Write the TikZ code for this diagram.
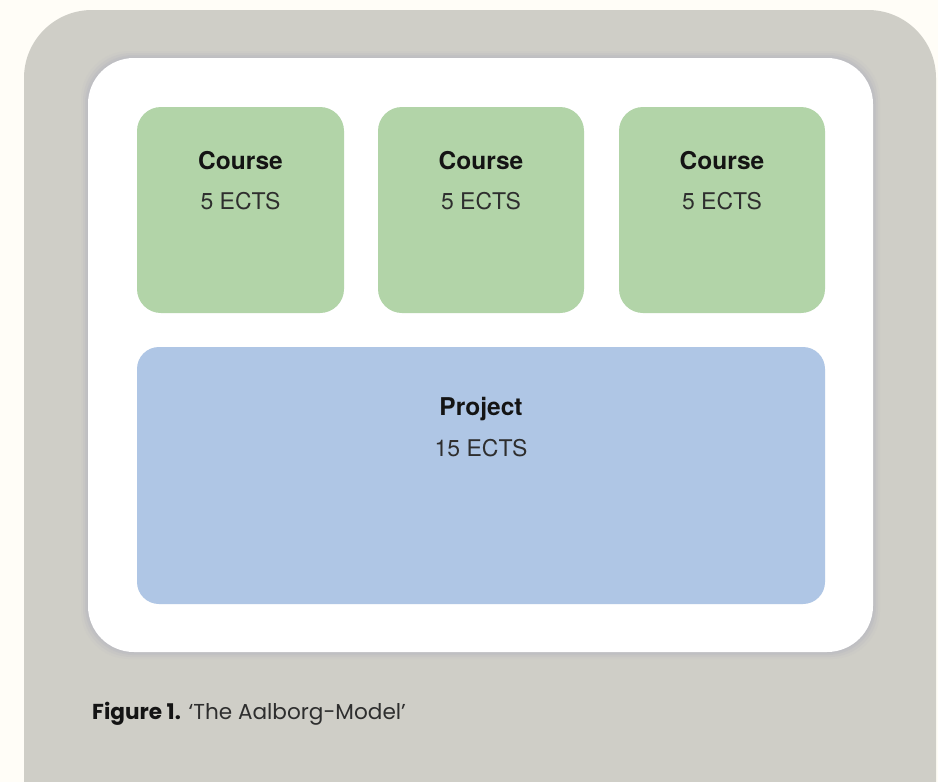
\documentclass[tikz,border=0pt]{standalone}
\usepackage{fontspec}
\setmainfont{TeX Gyre Heros}
\newfontfamily\capfont{Poppins}
\definecolor{cream}{HTML}{FFFDF7}
\definecolor{panelgrey}{HTML}{CFCEC7}
\definecolor{shadowgrey}{HTML}{BDBDC2}
\definecolor{coursegreen}{HTML}{B2D4A8}
\definecolor{projblue}{HTML}{AFC6E5}
\definecolor{titleblack}{HTML}{141414}
\definecolor{subgrey}{HTML}{2E2E2E}
\tikzset{
  coursebox/.style={rectangle, rounded corners=24pt, fill=coursegreen, draw=none, minimum width=207pt, minimum height=206pt, inner sep=0pt},
  titletext/.style={anchor=base, text=titleblack, font=\fontsize{24.5}{28}\selectfont\bfseries, inner sep=0pt},
  subtext/.style={anchor=base, text=subgrey, font=\fontsize{23}{27}\selectfont, inner sep=0pt},
}
\begin{document}
\begin{tikzpicture}[x=1pt,y=-1pt]
\useasboundingbox (0,0) rectangle (938,782);
\clip (0,0) rectangle (938,782);
\fill[cream] (0,0) rectangle (938,782);
% grey panel
\fill[panelgrey, rounded corners=68pt] (24,10) rectangle (936,860);
% shadow around white panel
\foreach \d/\o in {7/0.15,5/0.3,3/0.5,1.5/0.7}{
  \fill[shadowgrey, opacity=\o, rounded corners=48pt] (88-\d,58-\d) rectangle (873+\d,652+\d);
}
\node[rectangle, rounded corners=46pt, fill=white, minimum width=785pt, minimum height=594pt, inner sep=0pt] (panel) at (480.5,355) {};
% courses
\node[coursebox] (c1) at (240.5,210) {};
\node[coursebox, minimum width=206pt] (c2) at (481,210) {};
\node[coursebox, minimum width=206pt] (c3) at (722,210) {};
\foreach \c/\x in {c1/240.5,c2/481,c3/722}{
  \node[titletext] (\c t) at (\x,169) {Course};
  \node[subtext] (\c s) at (\x,209) {5 ECTS};
}
% project
\node[rectangle, rounded corners=22pt, fill=projblue, minimum width=688pt, minimum height=257pt, inner sep=0pt] (proj) at (481,475.5) {};
\node[titletext] (projt) at (481,415) {Project};
\node[subtext] (projs) at (481,456) {15 ECTS};
% caption
\node[anchor=base west, inner sep=0pt, text=titleblack, font=\capfont\fontsize{21.6}{26}\selectfont] (cap) at (92,719) {\textbf{Figure 1.} \textcolor{subgrey}{‘The Aalborg-Model’}};
\end{tikzpicture}
\end{document}
